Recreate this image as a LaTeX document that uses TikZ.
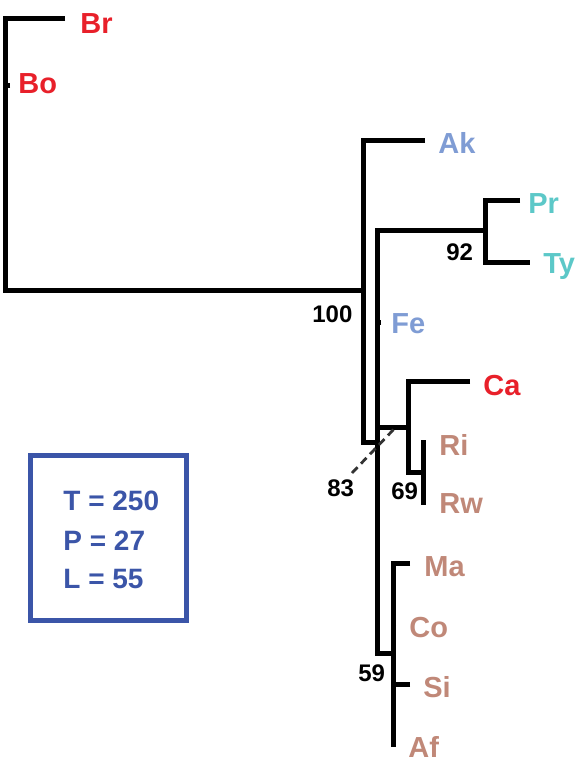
\documentclass[tikz,border=0pt]{standalone}
\usepackage{fontspec}
\setmainfont{Liberation Sans}
\usepackage{xcolor}
\usetikzlibrary{positioning}
\definecolor{tred}{HTML}{E8202A}
\definecolor{tblue}{HTML}{7F9CD4}
\definecolor{tteal}{HTML}{5CC8C8}
\definecolor{tbrown}{HTML}{C08878}
\definecolor{boxblue}{HTML}{3B55A8}

\begin{document}
\begin{tikzpicture}[
  x=0.5pt, y=-0.5pt,
  branch/.style={line width=2.5pt, line join=miter},
  taxon/.style={anchor=base west, inner sep=0pt, font=\fontsize{14.5}{16}\selectfont\bfseries},
  support/.style={anchor=base west, inner sep=0pt, font=\fontsize{12}{14}\selectfont\bfseries},
  stats/.style={anchor=base west, inner sep=0pt, text=boxblue, font=\fontsize{14}{16}\selectfont\bfseries}
]
\useasboundingbox (0,0) rectangle (578,761);

% branch points
\coordinate (root) at (5,290);
\coordinate (nA) at (363,290);
\coordinate (nAb) at (363,442);
\coordinate (nB) at (377,442);
\coordinate (nBb) at (377,653);
\coordinate (n92) at (485,230);
\coordinate (n83) at (408,427);
\coordinate (n69) at (408,472);
\coordinate (n59) at (393,653);

% branch ends
\coordinate (brE) at (65,18);
\coordinate (boE) at (10,85);
\coordinate (akE) at (425,140);
\coordinate (prE) at (520,200);
\coordinate (tyE) at (530,262);
\coordinate (feE) at (381,322);
\coordinate (caE) at (470,381);
\coordinate (riE) at (423,440);
\coordinate (rwE) at (423,505);
\coordinate (maE) at (410,563);
\coordinate (coE) at (396,623);
\coordinate (siE) at (410,684);
\coordinate (afE) at (393,747);

% taxa
\node[taxon, text=tred] (Br) at (80,33) {Br};
\node[taxon, text=tred] (Bo) at (18,93) {Bo};
\node[taxon, text=tblue] (Ak) at (438,153) {Ak};
\node[taxon, text=tteal] (Pr) at (528,213) {Pr};
\node[taxon, text=tteal] (Ty) at (543,273) {Ty};
\node[taxon, text=tblue] (Fe) at (391,333) {Fe};
\node[taxon, text=tred] (Ca) at (483,395) {Ca};
\node[taxon, text=tbrown] (Ri) at (439,455) {Ri};
\node[taxon, text=tbrown] (Rw) at (439,513) {Rw};
\node[taxon, text=tbrown] (Ma) at (424,576) {Ma};
\node[taxon, text=tbrown] (Co) at (409,637) {Co};
\node[taxon, text=tbrown] (Si) at (423,697) {Si};
\node[taxon, text=tbrown] (Af) at (408,757) {Af};

% support values
\node[support] (s100) at (312,322) {100};
\node[support] (s92) at (446,260) {92};
\node[support] (s83) at (327,496) {83};
\node[support] (s69) at (391,499) {69};
\node[support] (s59) at (358,681) {59};

% tree
\draw[branch] (brE) -| (root) -- (nA);
\draw[branch] (boE) -- (boE -| root);
\draw[branch] (akE) -| (nAb) -- (nB);
\draw[branch] (n92) -| (nBb) -- (n59);
\draw[branch] (prE) -| (tyE -| n92) -- (tyE);
\draw[branch] (feE) -- (feE -| nB);
\draw[branch] (caE) -| (n69) -- (rwE |- n69);
\draw[branch] (n83) -- (n83 -| nB);
\draw[branch] (riE) -- (rwE);
\draw[branch] (maE) -| (afE);
\draw[branch] (coE) -- (coE -| n59);
\draw[branch] (siE) -- (siE -| n59);
\draw[line width=1.4pt, dash pattern=on 4pt off 2.5pt, black!80] (352,473) -- (395,428);

% statistics box
\node[draw=boxblue, line width=2.5pt, inner sep=0pt,
  minimum width=78pt, minimum height=82.5pt] (statbox) at (108,537.5) {};
\node[stats] (tval) at (63,510) {T = 250};
\node[stats] (pval) at (63,550) {P = 27};
\node[stats] (lval) at (63,588) {L = 55};
\end{tikzpicture}
\end{document}
